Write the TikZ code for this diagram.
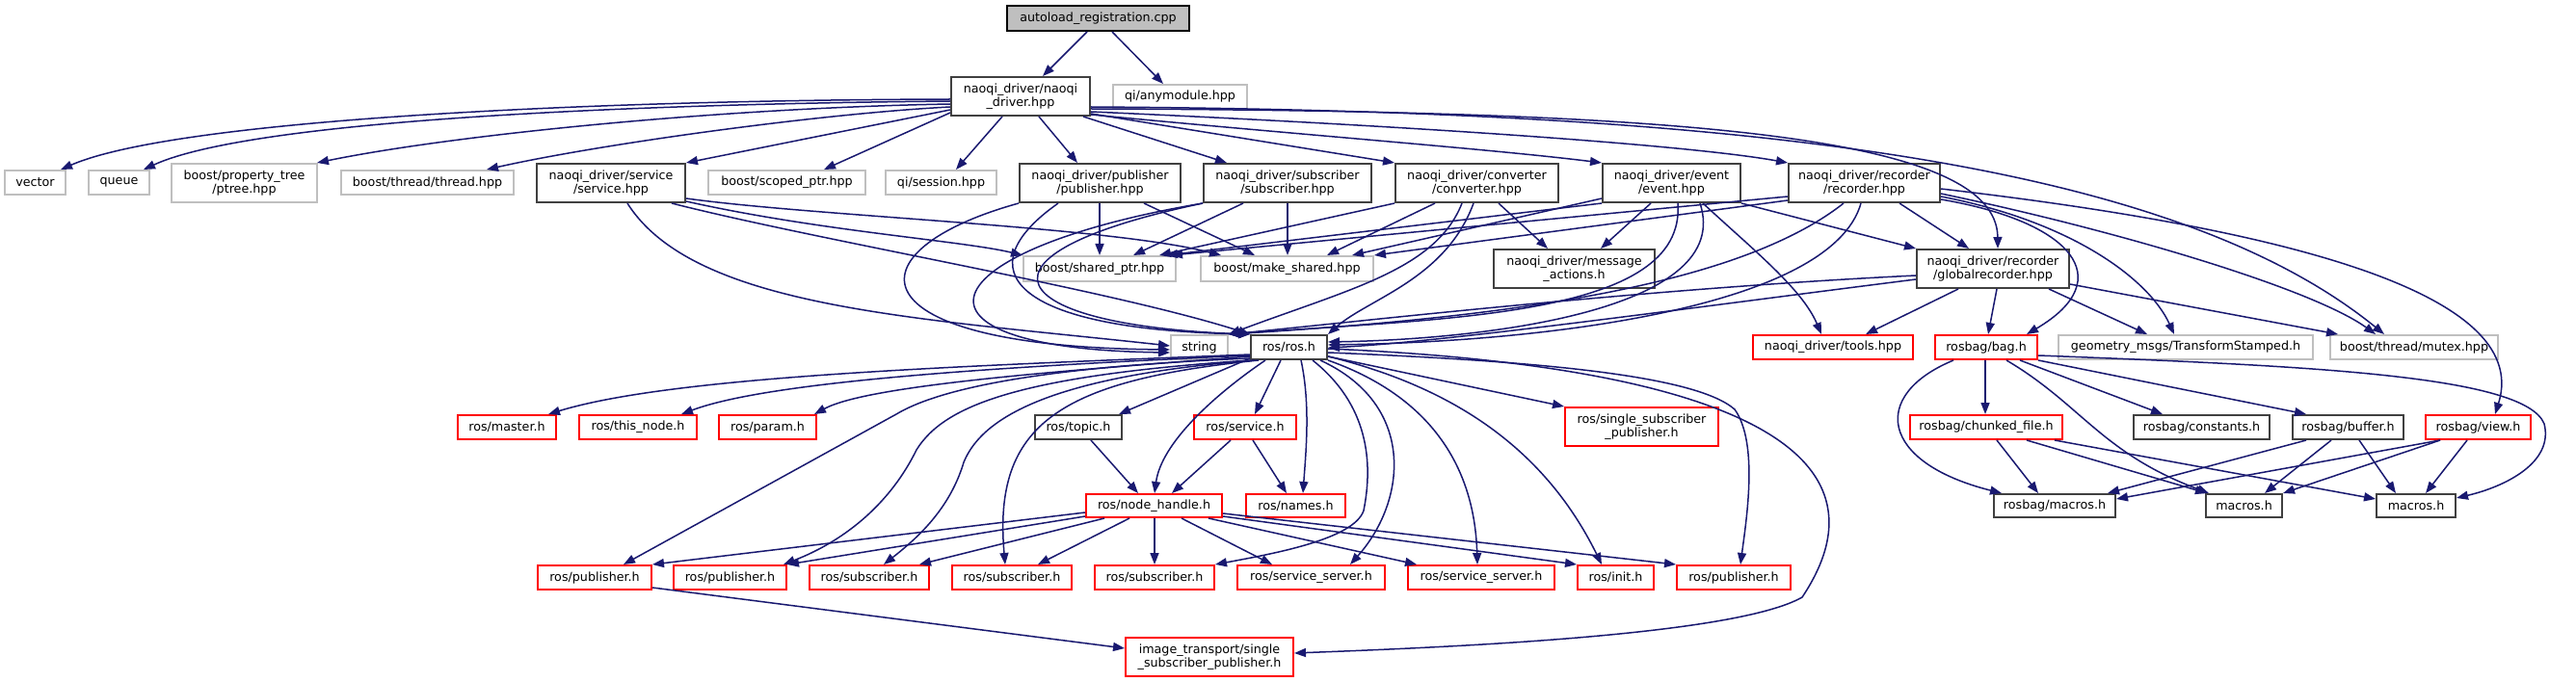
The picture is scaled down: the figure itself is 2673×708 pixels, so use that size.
\documentclass[tikz,border=0pt]{standalone}
\usepackage{fontspec}
\setmainfont{DejaVu Sans}
\usetikzlibrary{arrows.meta}
\definecolor{edgeblue}{HTML}{191970}
\definecolor{lgray}{HTML}{BFBFBF}
\definecolor{nred}{HTML}{FF0000}
\definecolor{dgray}{HTML}{404040}
\newcommand\dnode[7]{\node[#2, minimum width={(#5)-(#3)}, minimum height={(#6)-(#4)}] (#1) at ({((#3)+(#5))/2},{((#4)+(#6))/2}) {#7};}
\tikzset{
  basebox/.style={draw, rectangle, inner sep=0pt, align=center, font=\fontsize{12.7}{14.3}\selectfont, line width=2pt},
  blk/.style={basebox, draw=dgray},
  gry/.style={basebox, draw=lgray},
  rnode/.style={basebox, draw=nred},
  rootnode/.style={basebox, draw=black, fill=lgray},
  dep/.style={draw=edgeblue, line width=1.5pt, -{Triangle[length=12pt,width=9pt]}}
}
\begin{document}
\begin{tikzpicture}[x=1pt,y=-1pt]
\useasboundingbox[fill=white] (0,0) rectangle (2673,708);
% nodes
\dnode{root}{rootnode}{1045}{6}{1234}{32}{autoload\_registration.cpp}
\dnode{naoqi}{blk}{987}{80}{1131}{120}{naoqi\_driver/naoqi\\\_driver.hpp}
\dnode{anym}{gry}{1155}{88}{1294}{113}{qi/anymodule.hpp}
\dnode{vector}{gry}{5}{177}{68}{202}{vector}
\dnode{queue}{gry}{92}{177}{155}{202}{queue}
\dnode{ptree}{gry}{178}{170}{329}{210}{boost/property\_tree\\/ptree.hpp}
\dnode{thread}{gry}{354}{177}{533}{202}{boost/thread/thread.hpp}
\dnode{service}{blk}{557}{170}{711}{210}{naoqi\_driver/service\\/service.hpp}
\dnode{scoped}{gry}{735}{177}{898}{202}{boost/scoped\_ptr.hpp}
\dnode{session}{gry}{919}{177}{1034}{202}{qi/session.hpp}
\dnode{pub}{blk}{1058}{170}{1225}{210}{naoqi\_driver/publisher\\/publisher.hpp}
\dnode{sub}{blk}{1249}{170}{1423}{210}{naoqi\_driver/subscriber\\/subscriber.hpp}
\dnode{conv}{blk}{1448}{170}{1617}{210}{naoqi\_driver/converter\\/converter.hpp}
\dnode{event}{blk}{1663}{170}{1806}{210}{naoqi\_driver/event\\/event.hpp}
\dnode{rec}{blk}{1856}{170}{2013}{210}{naoqi\_driver/recorder\\/recorder.hpp}
\dnode{shptr}{gry}{1062}{266}{1220}{292}{boost/shared\_ptr.hpp}
\dnode{mkshr}{gry}{1246}{266}{1425}{292}{boost/make\_shared.hpp}
\dnode{msgact}{blk}{1550}{259}{1717}{299}{naoqi\_driver/message\\\_actions.h}
\dnode{glob}{blk}{1989}{259}{2147}{299}{naoqi\_driver/recorder\\/globalrecorder.hpp}
\dnode{string}{gry}{1215}{348}{1274}{373}{string}
\dnode{ros}{blk}{1298}{348}{1377}{373}{ros/ros.h}
\dnode{tools}{rnode}{1819}{348}{1985}{373}{naoqi\_driver/tools.hpp}
\dnode{bag}{rnode}{2008}{348}{2114}{373}{rosbag/bag.h}
\dnode{geom}{gry}{2136}{348}{2400}{373}{geometry\_msgs/TransformStamped.h}
\dnode{mutex}{gry}{2418}{348}{2592}{373}{boost/thread/mutex.hpp}
\dnode{master}{rnode}{475}{431}{577}{456}{ros/master.h}
\dnode{thisnode}{rnode}{601}{431}{723}{456}{ros/this\_node.h}
\dnode{param}{rnode}{746}{431}{847}{456}{ros/param.h}
\dnode{topic}{blk}{1074}{431}{1164}{456}{ros/topic.h}
\dnode{srvh}{rnode}{1239}{431}{1345}{456}{ros/service.h}
\dnode{ssp}{rnode}{1624}{423}{1783}{463}{ros/single\_subscriber\\\_publisher.h}
\dnode{chunk}{rnode}{1982}{431}{2140}{456}{rosbag/chunked\_file.h}
\dnode{const}{blk}{2214}{431}{2355}{456}{rosbag/constants.h}
\dnode{buffer}{blk}{2379}{431}{2494}{456}{rosbag/buffer.h}
\dnode{view}{rnode}{2517}{431}{2626}{456}{rosbag/view.h}
\dnode{nh}{rnode}{1127}{513}{1268}{537}{ros/node\_handle.h}
\dnode{names}{rnode}{1293}{513}{1396}{537}{ros/names.h}
\dnode{rbmac}{blk}{2069}{513}{2195}{537}{rosbag/macros.h}
\dnode{mac1}{blk}{2289}{513}{2368}{537}{macros.h}
\dnode{mac2}{blk}{2466}{513}{2548}{537}{macros.h}
\dnode{pub1}{rnode}{558}{587}{676}{612}{ros/publisher.h}
\dnode{pub2}{rnode}{699}{587}{816}{612}{ros/publisher.h}
\dnode{sub1}{rnode}{840}{587}{964}{612}{ros/subscriber.h}
\dnode{sub2}{rnode}{988}{587}{1112}{612}{ros/subscriber.h}
\dnode{sub3}{rnode}{1136}{587}{1260}{612}{ros/subscriber.h}
\dnode{ss1}{rnode}{1284}{587}{1437}{612}{ros/service\_server.h}
\dnode{ss2}{rnode}{1461}{587}{1613}{612}{ros/service\_server.h}
\dnode{init}{rnode}{1637}{587}{1716}{612}{ros/init.h}
\dnode{pub3}{rnode}{1740}{587}{1858}{612}{ros/publisher.h}
\dnode{imt}{rnode}{1168}{662}{1342}{702}{image\_transport/single\\\_subscriber\_publisher.h}
% root
\draw[dep] (root.south -| 1128,0) -- (naoqi.north -| 1082,0);
\draw[dep] (root.south -| 1154,0) -- (anym.north -| 1207,0);
% naoqi_driver.hpp
\draw[dep] (naoqi.west |- 0,103) .. controls (600,104) and (180,125) .. (vector.north -| 63,0);
\draw[dep] (naoqi.west |- 0,105) .. controls (650,108) and (260,125) .. (queue.north -| 149,0);
\draw[dep] (naoqi.west |- 0,108) .. controls (750,112) and (470,140) .. (ptree.north -| 329,0);
\draw[dep] (naoqi.west |- 0,111) .. controls (850,118) and (620,150) .. (thread.north -| 505,0);
\draw[dep] (naoqi.west |- 0,114) -- (service.north east);
\draw[dep] (naoqi.west |- 0,117) -- (scoped.north -| 855,0);
\draw[dep] (naoqi.south -| 1040,0) -- (session.north -| 992,0);
\draw[dep] (naoqi.south -| 1078,0) -- (pub.north -| 1118,0);
\draw[dep] (naoqi.south -| 1124,0) -- (sub.north -| 1273,0);
\draw[dep] (naoqi.east |- 0,118) -- (conv.north west);
\draw[dep] (naoqi.east |- 0,119) .. controls (1350,140) and (1550,155) .. (event.north west);
\draw[dep] (naoqi.east |- 0,116) .. controls (1450,130) and (1750,150) .. (rec.north west);
\draw[dep] (naoqi.east |- 0,113) .. controls (1750,115) and (2072,140) .. (glob.north -| 2073,0);
\draw[dep] (naoqi.east |- 0,111) .. controls (1800,115) and (2250,165) .. (mutex.north -| 2474,0);
% service.hpp
\draw[dep] (service.east |- 0,206) .. controls (850,225) and (1150,235) .. (mkshr.north -| 1267,0);
\draw[dep] (service.east |- 0,209) .. controls (850,240) and (1000,250) .. (shptr.north west);
\draw[dep] (service.south -| 697,0) .. controls (850,250) and (1150,300) .. (ros.north west);
\draw[dep] (service.south -| 651,0) .. controls (720,320) and (950,330) .. (string.west |- 0,359);
% publisher.hpp
\draw[dep] (pub.south -| 1141,0) -- (shptr.north -| 1141,0);
\draw[dep] (pub.south -| 1187,0) -- (mkshr.north -| 1302,0);
\draw[dep] (pub.south west) .. controls (880,260) and (880,360) .. (string.west |- 0,363);
\draw[dep] (pub.south -| 1098,0) .. controls (1000,280) and (1050,342) .. (ros.north west);
% subscriber.hpp
\draw[dep] (sub.south -| 1290,0) -- (shptr.north -| 1176,0);
\draw[dep] (sub.south -| 1336,0) -- (mkshr.north -| 1336,0);
\draw[dep] (sub.south west) .. controls (960,260) and (920,362) .. (string.west |- 0,366);
\draw[dep] (sub.south west) .. controls (990,265) and (1040,338) .. (ros.north west);
% converter.hpp
\draw[dep] (conv.south west) -- (shptr.north -| 1203,0);
\draw[dep] (conv.south -| 1489,0) -- (mkshr.north -| 1377,0);
\draw[dep] (conv.south -| 1517,0) .. controls (1490,280) and (1400,300) .. (string.north east);
\draw[dep] (conv.south -| 1529,0) .. controls (1500,290) and (1420,310) .. (ros.north east);
\draw[dep] (conv.south -| 1555,0) -- (msgact.north -| 1606,0);
% event.hpp
\draw[dep] (event.south west) -- (shptr.north -| 1210,0);
\draw[dep] (event.west |- 0,206) -- (mkshr.north -| 1403,0);
\draw[dep] (event.south -| 1713,0) -- (msgact.north -| 1661,0);
\draw[dep] (event.south -| 1767,0) .. controls (1820,260) and (1870,300) .. (tools.north -| 1890,0);
\draw[dep] (event.south east) -- (glob.north west);
\draw[dep] (event.south -| 1741,0) .. controls (1750,330) and (1500,330) .. (string.north east);
\draw[dep] (event.south -| 1764,0) .. controls (1800,320) and (1550,352) .. (ros.east |- 0,355);
% recorder.hpp
\draw[dep] (rec.west |- 0,204) -- (shptr.north -| 1215,0);
\draw[dep] (rec.west |- 0,208) -- (mkshr.north east);
\draw[dep] (rec.south -| 1913,0) .. controls (1800,300) and (1550,330) .. (string.north east);
\draw[dep] (rec.south -| 1931,0) .. controls (1900,320) and (1600,355) .. (ros.east |- 0,358);
\draw[dep] (rec.south -| 1971,0) -- (glob.north -| 2043,0);
\draw[dep] (rec.east |- 0,207) .. controls (2150,230) and (2200,290) .. (bag.north -| 2103,0);
\draw[dep] (rec.east |- 0,204) .. controls (2150,230) and (2230,290) .. (geom.north -| 2256,0);
\draw[dep] (rec.east |- 0,201) .. controls (2200,240) and (2400,300) .. (mutex.north -| 2465,0);
\draw[dep] (rec.east |- 0,196) .. controls (2350,235) and (2630,300) .. (view.north -| 2589,0);
% globalrecorder.hpp
\draw[dep] (glob.south -| 2032,0) -- (tools.north -| 1936,0);
\draw[dep] (glob.south -| 2072,0) -- (bag.north -| 2063,0);
\draw[dep] (glob.south -| 2126,0) -- (geom.north -| 2228,0);
\draw[dep] (glob.east |- 0,295) -- (mutex.north -| 2426,0);
\draw[dep] (glob.west |- 0,286) .. controls (1700,300) and (1400,335) .. (string.north east);
\draw[dep] (glob.west |- 0,290) .. controls (1750,320) and (1500,355) .. (ros.east |- 0,361);
% ros/ros.h
\draw[dep] (ros.west |- 0,368) .. controls (1000,380) and (700,390) .. (master.north -| 569,0);
\draw[dep] (ros.west |- 0,369) .. controls (1050,380) and (800,395) .. (thisnode.north -| 707,0);
\draw[dep] (ros.west |- 0,370) .. controls (1100,385) and (900,400) .. (param.north -| 845,0);
\draw[dep] (ros.west |- 0,372) -- (topic.north -| 1161,0);
\draw[dep] (ros.south -| 1329,0) -- (srvh.north -| 1302,0);
\draw[dep] (ros.south -| 1313,0) .. controls (1260,410) and (1205,460) .. (nh.north -| 1198,0);
\draw[dep] (ros.south -| 1350,0) .. controls (1360,420) and (1355,470) .. (names.north -| 1352,0);
\draw[dep] (ros.east |- 0,370) -- (ssp.north west);
\draw[dep] (ros.west |- 0,372) .. controls (1100,380) and (980,400) .. (930,430) -- (pub1.north -| 647,0);
\draw[dep] (ros.south west) .. controls (1060,390) and (980,420) .. (951,467) .. controls (925,520) and (880,560) .. (pub2.north -| 813,0);
\draw[dep] (ros.south -| 1302,0) .. controls (1100,390) and (1020,430) .. (1000,480) .. controls (985,530) and (950,560) .. (sub1.north -| 917,0);
\draw[dep] (ros.south -| 1306,0) .. controls (1100,395) and (1030,440) .. (sub2.north -| 1043,0);
\draw[dep] (ros.south -| 1362,0) .. controls (1420,420) and (1425,480) .. (1415,530) .. controls (1405,560) and (1320,575) .. (sub3.north east);
\draw[dep] (ros.south -| 1370,0) .. controls (1470,420) and (1460,520) .. (ss1.north -| 1401,0);
\draw[dep] (ros.south east) .. controls (1480,410) and (1530,480) .. (ss2.north -| 1533,0);
\draw[dep] (ros.east |- 0,370) .. controls (1500,400) and (1600,460) .. (init.north -| 1662,0);
\draw[dep] (ros.east |- 0,366) .. controls (1600,375) and (1760,390) .. (1800,425) .. controls (1825,460) and (1812,540) .. (pub3.north -| 1806,0);
\draw[dep] (ros.east |- 0,362) .. controls (1800,380) and (1970,470) .. (1870,620) .. controls (1800,660) and (1500,672) .. (imt.east |- 0,678);
% ros/node_handle.h
\draw[dep] (nh.west |- 0,532) -- (pub1.north east);
\draw[dep] (nh.west |- 0,536) -- (pub2.north east);
\draw[dep] (nh.south -| 1146,0) -- (sub1.north -| 954,0);
\draw[dep] (nh.south -| 1172,0) -- (sub2.north -| 1077,0);
\draw[dep] (nh.south -| 1198,0) -- (sub3.north -| 1198,0);
\draw[dep] (nh.south -| 1226,0) -- (ss1.north -| 1320,0);
\draw[dep] (nh.south -| 1254,0) -- (ss2.north -| 1470,0);
\draw[dep] (nh.east |- 0,536) -- (init.north west);
\draw[dep] (nh.east |- 0,533) -- (pub3.north west);
% topic, service.h, publisher
\draw[dep] (topic.south -| 1132,0) -- (nh.north -| 1181,0);
\draw[dep] (srvh.south -| 1277,0) -- (nh.north -| 1216,0);
\draw[dep] (srvh.south -| 1300,0) -- (names.north -| 1335,0);
\draw[dep] (pub1.east |- 0,610) -- (imt.west |- 0,673);
% rosbag/bag.h
\draw[dep] (bag.south -| 2060,0) -- (chunk.north -| 2060,0);
\draw[dep] (bag.south -| 2027,0) .. controls (1940,410) and (1950,480) .. (rbmac.north -| 2077,0);
\draw[dep] (bag.south -| 2082,0) .. controls (2160,420) and (2180,470) .. (mac1.north -| 2292,0);
\draw[dep] (bag.south -| 2096,0) -- (const.north -| 2244,0);
\draw[dep] (bag.south east) -- (buffer.north -| 2393,0);
\draw[dep] (bag.east |- 0,369) .. controls (2400,380) and (2620,390) .. (2640,440) .. controls (2650,480) and (2600,505) .. (mac2.east |- 0,517);
% chunked_file, buffer, view
\draw[dep] (chunk.south -| 2072,0) -- (rbmac.north -| 2115,0);
\draw[dep] (chunk.south -| 2103,0) -- (mac1.north -| 2290,0);
\draw[dep] (chunk.south -| 2132,0) -- (mac2.west |- 0,518);
\draw[dep] (buffer.south -| 2393,0) -- (rbmac.north -| 2187,0);
\draw[dep] (buffer.south -| 2419,0) -- (mac1.north -| 2350,0);
\draw[dep] (buffer.south -| 2448,0) -- (mac2.north -| 2486,0);
\draw[dep] (view.south -| 2532,0) -- (rbmac.east |- 0,518);
\draw[dep] (view.south -| 2532,0) -- (mac1.north east);
\draw[dep] (view.south -| 2560,0) -- (mac2.north -| 2517,0);
\end{tikzpicture}
\end{document}
